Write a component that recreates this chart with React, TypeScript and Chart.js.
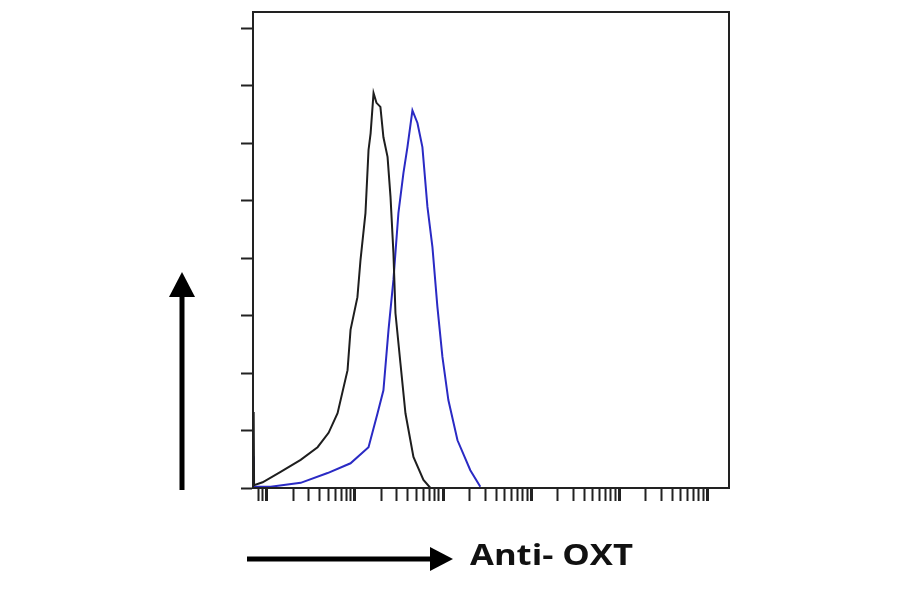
import React, { useEffect, useRef } from "react";
import { Chart, registerables } from "chart.js";

Chart.register(...registerables);

// Isotype control histogram (black)
const isotypeX = [0.7125, 0.72, 0.9, 1.44, 2.43, 3.78, 5.04, 6.37, 8.27, 8.94, 10.7, 11.6, 13.2, 14.3, 15.1, 16.3, 17.6, 19.5, 21.1, 23.5, 25.4, 27.4, 28.9, 32.9, 37.5, 46.2, 60.0, 72.0];
const isotypeY = [1.32, 0.05, 0.10, 0.28, 0.49, 0.71, 0.96, 1.30, 2.05, 2.75, 3.32, 3.97, 4.78, 5.88, 6.17, 6.87, 6.70, 6.63, 6.10, 5.76, 5.06, 4.09, 3.04, 2.17, 1.30, 0.54, 0.14, 0.0];

// Anti-OXT stained histogram (blue)
const antibodyX = [0.7125, 0.72, 1.11, 2.43, 4.91, 8.94, 14.3, 18.1, 21.1, 24.1, 27.4, 31.2, 35.6, 39.5, 45.0, 51.3, 58.4, 66.6, 75.9, 86.4, 98.5, 115, 146, 204, 265];
const antibodyY = [0.55, 0.02, 0.02, 0.09, 0.26, 0.43, 0.71, 1.30, 1.70, 2.75, 3.62, 4.78, 5.48, 5.93, 6.57, 6.35, 5.93, 4.89, 4.19, 3.15, 2.28, 1.53, 0.83, 0.31, 0.02];

const yTickValues = [0, 1, 2, 3, 4, 5, 6, 7, 8];
const decades = [-1, 0, 1, 2, 3, 4, 5];
const multipliers = [1, 2, 3, 4, 5, 6, 7, 8, 9];

const X_MIN = 0.7125;
const X_MAX = 175200;
const Y_MAX = 8.28;
const axisLabel = "Anti- OXT";

const isDecade = (v: number) => Math.abs(Math.log10(v) - Math.round(Math.log10(v))) < 1e-9;

export default function App() {
  const ref = useRef<HTMLCanvasElement | null>(null);

  useEffect(() => {
    if (!ref.current) return;
    const xTicks: number[] = [];
    decades.forEach((d) =>
      multipliers.forEach((m) => {
        const v = m * Math.pow(10, d);
        if (v >= X_MIN && v <= X_MAX) xTicks.push(v);
      })
    );

    const framePlugin = {
      id: "frame",
      afterDraw(chart: any) {
        const { ctx, chartArea } = chart;
        ctx.save();
        ctx.strokeStyle = "#222";
        ctx.lineWidth = 2;
        ctx.strokeRect(chartArea.left, chartArea.top, chartArea.right - chartArea.left, chartArea.bottom - chartArea.top);
        ctx.restore();
      },
    };

    const chart = new Chart(ref.current, {
      type: "line",
      data: {
        datasets: [
          {
            label: "Isotype",
            data: isotypeX.map((x, i) => ({ x, y: isotypeY[i] })),
            borderColor: "#1e1e1e",
            borderWidth: 2,
            pointRadius: 0,
            tension: 0,
            fill: false,
          },
          {
            label: "Anti-OXT",
            data: antibodyX.map((x, i) => ({ x, y: antibodyY[i] })),
            borderColor: "#2a2ac4",
            borderWidth: 2,
            pointRadius: 0,
            tension: 0,
            fill: false,
          },
        ],
      },
      plugins: [framePlugin],
      options: {
        animation: false,
        responsive: false,
        events: [],
        layout: { padding: { left: 0, top: 12, right: 171, bottom: 0 } },
        plugins: { legend: { display: false }, tooltip: { enabled: false } },
        scales: {
          x: {
            type: "logarithmic",
            min: X_MIN,
            max: X_MAX,
            afterBuildTicks: (scale: any) => {
              scale.ticks = xTicks.map((v) => ({ value: v, major: isDecade(v) }));
            },
            afterFit: (scale: any) => {
              scale.height = 106;
            },
            ticks: { display: false },
            grid: {
              drawOnChartArea: false,
              drawTicks: true,
              tickLength: 13,
              tickColor: "#222",
              tickWidth: (ctx: any) => (ctx.tick && isDecade(ctx.tick.value) ? 3 : 2),
            },
            border: { display: true, color: "#222", width: 2 },
          },
          y: {
            type: "linear",
            min: 0,
            max: Y_MAX,
            afterBuildTicks: (scale: any) => {
              scale.ticks = yTickValues.map((v) => ({ value: v }));
            },
            afterFit: (scale: any) => {
              scale.width = 253;
            },
            ticks: { display: false },
            grid: {
              drawOnChartArea: false,
              drawTicks: true,
              tickLength: 12,
              tickColor: "#222",
              tickWidth: 2,
            },
            border: { display: true, color: "#222", width: 2 },
          },
        },
      },
    });
    return () => chart.destroy();
  }, []);

  return (
    <div style={{ position: "absolute", left: 0, top: 0, width: 900, height: 594, background: "#fff" }}>
      <canvas ref={ref} width={900} height={594} style={{ position: "absolute", left: 0, top: 0 }} />
      <svg width={900} height={594} style={{ position: "absolute", left: 0, top: 0 }}>
        <line x1={182} y1={490} x2={182} y2={292} stroke="#000" strokeWidth={5} />
        <polygon points="169,297 195,297 182,272" fill="#000" />
        <line x1={247} y1={559} x2={433} y2={559} stroke="#000" strokeWidth={5} />
        <polygon points="430,547 430,571 453,559" fill="#000" />
        <text
          x={470}
          y={565}
          textLength={163}
          lengthAdjust="spacingAndGlyphs"
          style={{ fontFamily: "'Open Sans', 'Liberation Sans', sans-serif", fontWeight: 700, fontSize: 28 }}
          fill="#111"
        >
          {axisLabel}
        </text>
      </svg>
    </div>
  );
}
